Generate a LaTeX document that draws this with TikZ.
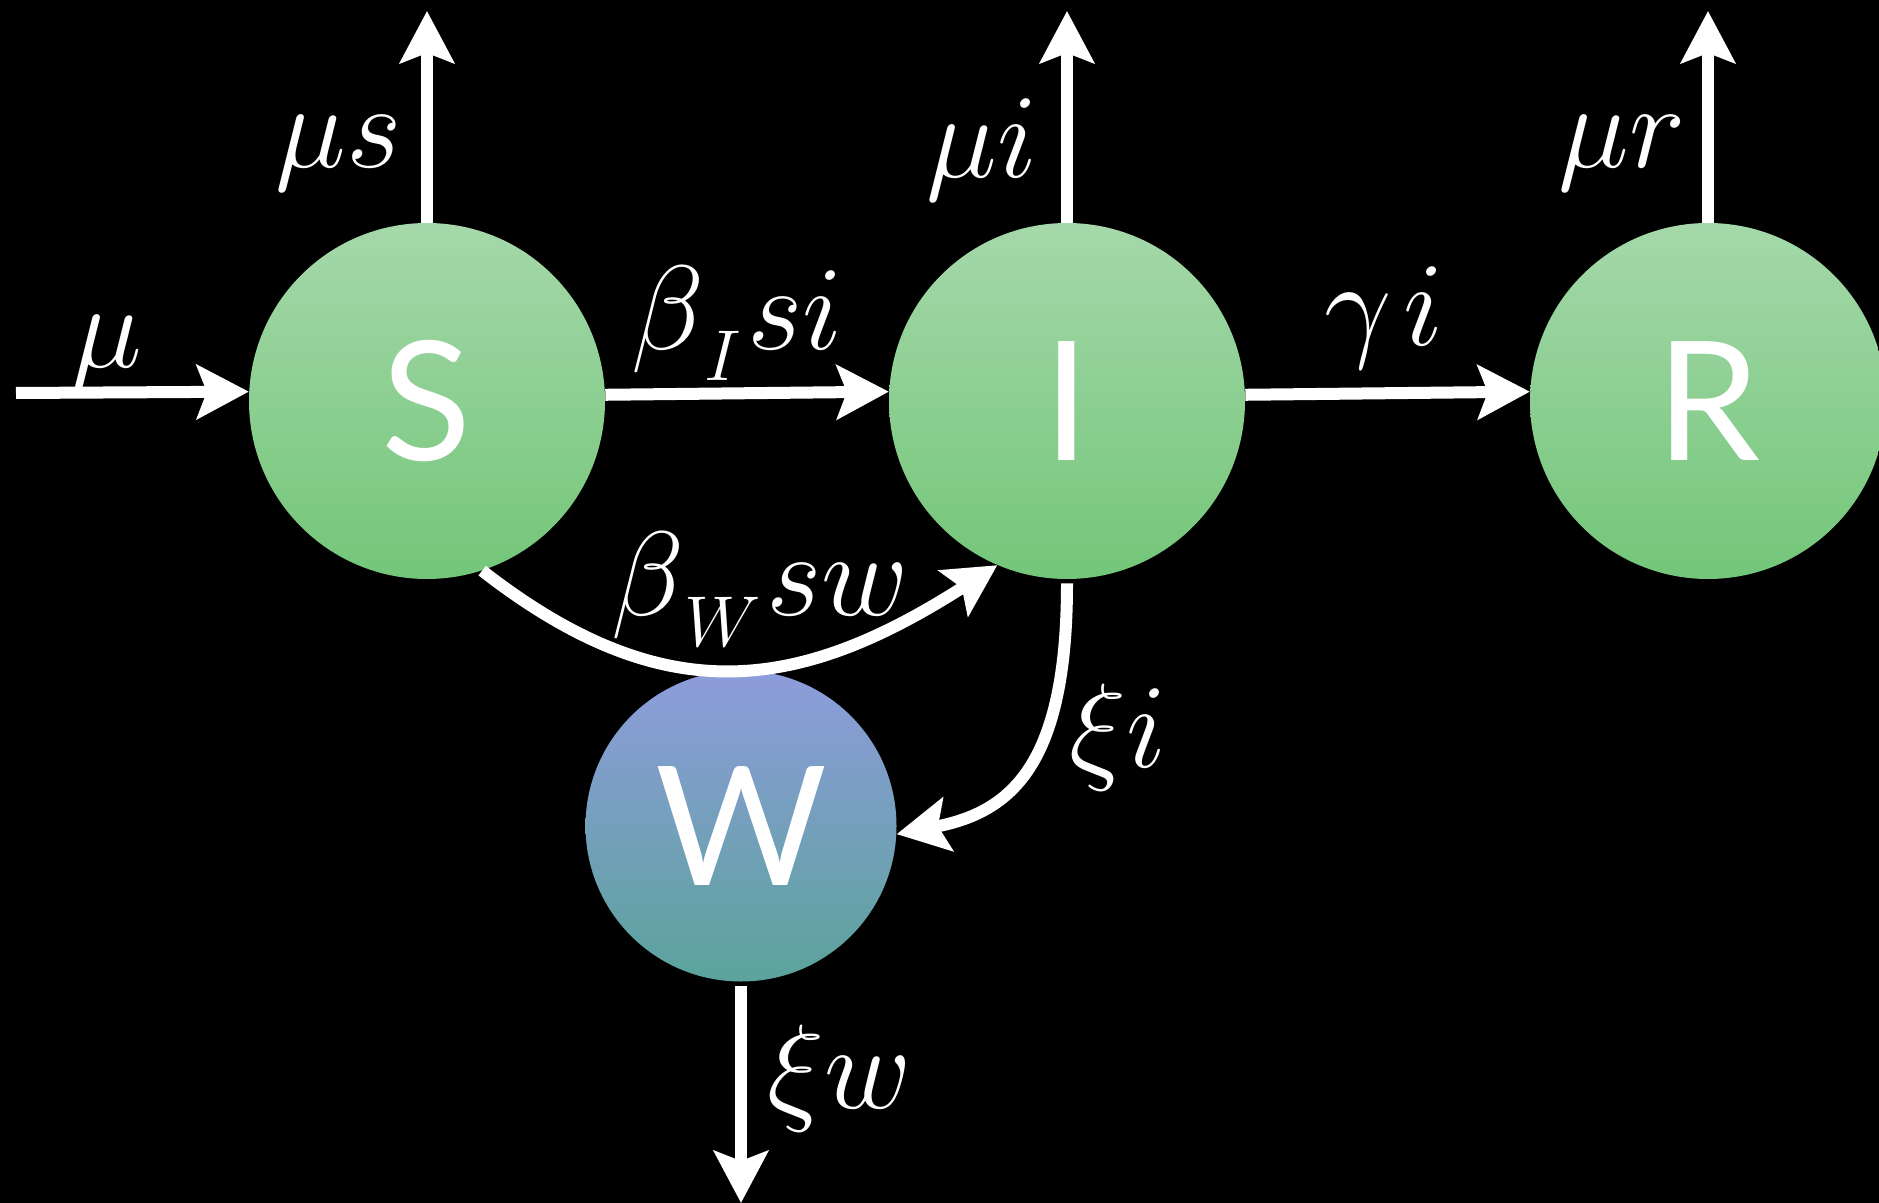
\RequirePackage{fix-cm}
\documentclass[tikz,border=0pt]{standalone}
\usepackage{fontspec}
\newfontfamily\letterfont{Lato}
\usetikzlibrary{arrows.meta}
\definecolor{gtop}{HTML}{A5D8AA}
\definecolor{gbot}{HTML}{73C679}
\definecolor{wtop}{HTML}{8E9CDC}
\definecolor{wbot}{HTML}{5BA39B}
\begin{document}
\begin{tikzpicture}[x=0.5pt,y=-0.5pt,
  comp/.style={circle,inner sep=0pt,text=white,
    font={\letterfont\fontsize{83pt}{83pt}\selectfont}},
  greencomp/.style={comp,minimum size=178pt,top color=gtop,bottom color=gbot},
  watercomp/.style={comp,minimum size=155.5pt,top color=wtop,bottom color=wbot},
  flow/.style={draw=white,line width=6pt,-{Stealth[length=26pt,width=27pt,inset=5pt]}},
  lbl/.style={text=white,inner sep=0pt,anchor=base,
    font={\fontsize{60pt}{60pt}\selectfont}}]
\useasboundingbox (0,0) rectangle (1879,1203);
\fill[black] (0,0) rectangle (1879,1203);
\newcommand\subsc[1]{\raisebox{-15.5pt}{\fontsize{36pt}{36pt}\selectfont$#1$}}

\node[greencomp] (S) at (427,401) {S};
\node[greencomp] (I) at (1067,401) {I};
\node[greencomp] (R) at (1708,401) {R};
\node[watercomp] (W) at (741,826) {W};

\coordinate (in) at (16,393);
\coordinate (Sup) at (427,11);
\coordinate (Iup) at (1067,11);
\coordinate (Rup) at (1708,11);
\coordinate (Wdown) at (741,1203);

\draw[flow] (in) -- (S.177.4);
\draw[flow] (S.north) -- (Sup);
\draw[flow] (S.2.6) -- (I.177.4);
\draw[flow] (I.north) -- (Iup);
\draw[flow] (I.2.6) -- (R.177.4);
\draw[flow] (R.north) -- (Rup);
\draw[flow] (S.-72) .. controls +(180,140) and +(-201,129) .. (I.-113);
\draw[flow,shorten <=2pt] (I.south) .. controls +(0,185) and +(115,-22) .. (W.-3);
\draw[flow,shorten <=2pt] (W.south) -- (Wdown);

\node[lbl] (lmu) at (107,368) {$\mu$};
\node[lbl] (lmus) at (339,168) {$\mu s$};
\node[lbl] (lmui) at (982,178) {$\mu i$};
\node[lbl] (lmur) at (1622,168) {$\mu r$};
\node[lbl] (lbi) at (737,350) {$\beta$\subsc{I}\hspace{3pt}$si$};
\node[lbl] (lgi) at (1384,346) {$\gamma$\hspace{6pt}$i$};
\node[lbl] (lbw) at (760,615) {$\beta$\subsc{W}\hspace{3pt}$sw$};
\node[lbl] (lxi) at (1118,767) {$\xi i$};
\node[lbl] (lxw) at (840,1108) {$\xi w$};
\end{tikzpicture}
\end{document}
